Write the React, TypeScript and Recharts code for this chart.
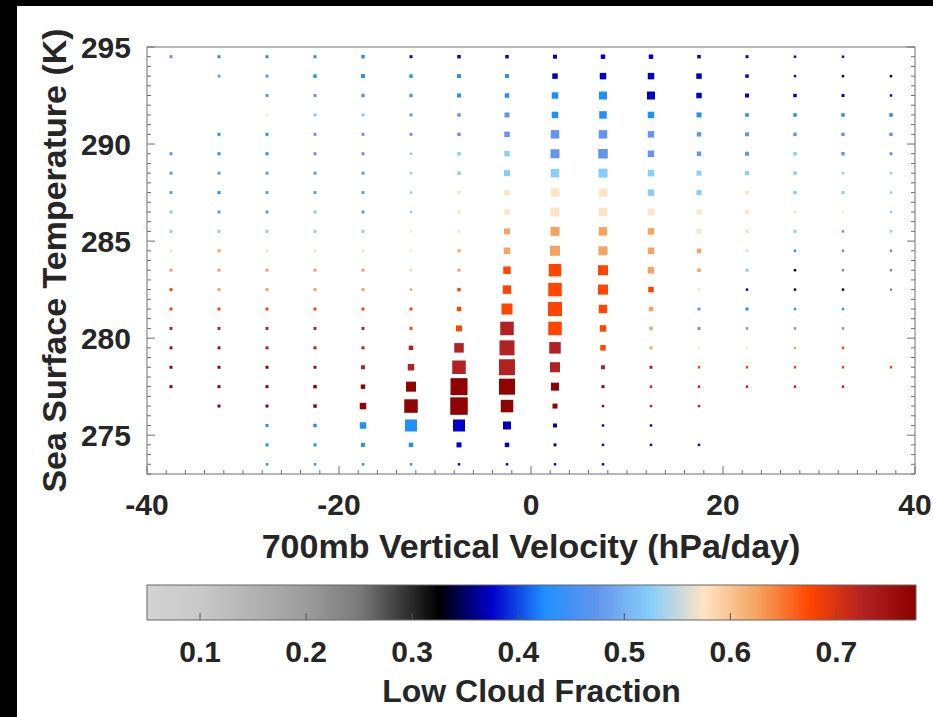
import React from 'react';
import { ScatterChart, Scatter, XAxis, YAxis, ZAxis, ComposedChart, ReferenceArea } from 'recharts';

const FONT = '"Liberation Sans", Arial, Helvetica, sans-serif';
const AXIS = '#6e6e6e';
const TEXT = '#262626';

// 700 mb vertical velocity bin centres (hPa/day)
const velocityBins = [-37.5, -32.5, -27.5, -22.5, -17.5, -12.5, -7.5, -2.5, 2.5, 7.5, 12.5, 17.5, 22.5, 27.5, 32.5, 37.5];
// SST bin centres (K), top row first
const sstBins = [294.5, 293.5, 292.5, 291.5, 290.5, 289.5, 288.5, 287.5, 286.5, 285.5, 284.5, 283.5, 282.5, 281.5, 280.5, 279.5, 278.5, 277.5, 276.5, 275.5, 274.5, 273.5];

// low cloud fraction per bin (rows follow sstBins, columns follow velocityBins)
const lowCloudFraction: (number | null)[][] = [
  [0.475, 0.425, 0.425, 0.425, 0.425, 0.375, 0.375, 0.375, 0.375, 0.375, 0.375, 0.375, 0.375, 0.375, 0.375, null],
  [null, 0.49, 0.475, 0.425, 0.425, 0.425, 0.425, 0.425, 0.375, 0.375, 0.375, 0.375, 0.375, 0.375, 0.325, 0.325],
  [null, null, 0.475, 0.475, 0.475, 0.475, 0.425, 0.425, 0.425, 0.425, 0.375, 0.375, 0.375, 0.375, 0.375, 0.375],
  [null, null, 0.575, 0.525, 0.525, 0.475, 0.475, 0.475, 0.425, 0.425, 0.425, 0.425, 0.425, 0.425, 0.425, 0.425],
  [null, 0.425, 0.425, 0.475, 0.475, 0.475, 0.475, 0.475, 0.475, 0.475, 0.475, 0.475, 0.475, 0.475, 0.475, 0.475],
  [0.475, 0.425, 0.425, 0.475, 0.475, 0.525, 0.525, 0.525, 0.475, 0.475, 0.475, 0.475, 0.475, 0.525, 0.475, 0.475],
  [0.475, 0.475, 0.475, 0.475, 0.475, 0.525, 0.525, 0.525, 0.525, 0.525, 0.525, 0.525, 0.525, 0.525, 0.525, 0.525],
  [0.475, 0.425, 0.475, 0.475, 0.475, 0.525, 0.575, 0.575, 0.575, 0.575, 0.525, 0.525, 0.575, 0.525, 0.525, 0.525],
  [0.525, 0.475, 0.475, 0.525, 0.475, 0.525, 0.575, 0.575, 0.575, 0.575, 0.575, 0.575, 0.575, 0.575, 0.575, 0.525],
  [0.525, 0.525, 0.525, 0.525, 0.525, 0.575, 0.575, 0.625, 0.625, 0.625, 0.625, 0.575, 0.575, 0.525, 0.475, 0.525],
  [0.575, 0.625, 0.575, 0.575, 0.575, 0.575, 0.625, 0.625, 0.625, 0.625, 0.625, 0.625, 0.575, 0.425, 0.22, 0.22],
  [0.625, 0.625, 0.625, 0.625, 0.625, 0.59, 0.625, 0.675, 0.675, 0.675, 0.625, 0.625, 0.525, 0.325, 0.22, 0.22],
  [0.675, 0.625, 0.625, 0.625, 0.625, 0.625, 0.675, 0.675, 0.675, 0.675, 0.675, 0.575, 0.375, 0.325, 0.325, 0.22],
  [0.675, 0.675, 0.675, 0.675, 0.675, 0.675, 0.675, 0.675, 0.675, 0.675, 0.625, 0.475, 0.425, 0.425, 0.425, null],
  [0.725, 0.725, 0.725, 0.725, 0.725, 0.675, 0.675, 0.725, 0.675, 0.675, 0.625, 0.475, 0.475, 0.475, 0.475, null],
  [0.75, 0.75, 0.725, 0.725, 0.725, 0.725, 0.725, 0.725, 0.725, 0.675, 0.625, 0.575, 0.575, 0.625, 0.675, null],
  [0.77, 0.77, 0.77, 0.75, 0.725, 0.725, 0.725, 0.725, 0.725, 0.725, 0.725, 0.675, 0.675, 0.675, 0.675, 0.675],
  [0.77, 0.77, 0.77, 0.77, 0.77, 0.77, 0.77, 0.77, 0.77, 0.77, 0.725, 0.725, 0.725, 0.725, 0.725, null],
  [null, 0.77, 0.77, 0.77, 0.77, 0.77, 0.77, 0.77, 0.77, 0.77, 0.725, 0.725, null, null, null, null],
  [null, null, 0.425, 0.425, 0.425, 0.425, 0.375, 0.375, 0.375, 0.375, 0.375, null, null, null, null, null],
  [null, null, 0.425, 0.425, 0.425, 0.425, 0.375, 0.375, 0.375, 0.375, 0.375, 0.375, null, null, null, null],
  [null, null, 0.425, 0.425, 0.425, 0.425, 0.375, 0.375, 0.375, 0.375, null, null, null, null, null, null],
];

// frequency of occurrence per bin (%), sets marker area
const frequency: (number | null)[][] = [
  [0.09, 0.09, 0.09, 0.09, 0.12, 0.09, 0.12, 0.12, 0.16, 0.2, 0.2, 0.12, 0.09, 0.06, 0.06, null],
  [null, 0.09, 0.09, 0.12, 0.16, 0.12, 0.16, 0.16, 0.3, 0.42, 0.42, 0.3, 0.12, 0.06, 0.06, 0.06],
  [null, null, 0.09, 0.09, 0.12, 0.12, 0.16, 0.2, 0.42, 0.64, 0.64, 0.3, 0.16, 0.12, 0.09, 0.06],
  [null, null, 0.06, 0.09, 0.09, 0.09, 0.12, 0.25, 0.42, 0.56, 0.42, 0.25, 0.12, 0.12, 0.12, 0.12],
  [null, 0.09, 0.09, 0.09, 0.09, 0.09, 0.12, 0.3, 0.72, 0.72, 0.42, 0.2, 0.16, 0.12, 0.12, 0.12],
  [0.09, 0.09, 0.09, 0.09, 0.09, 0.06, 0.12, 0.3, 0.81, 0.9, 0.42, 0.2, 0.16, 0.12, 0.12, 0.09],
  [0.09, 0.09, 0.09, 0.09, 0.09, 0.06, 0.12, 0.36, 0.72, 0.81, 0.42, 0.25, 0.16, 0.12, 0.06, 0.06],
  [0.09, 0.09, 0.09, 0.09, 0.09, 0.06, 0.12, 0.3, 0.72, 0.72, 0.42, 0.25, 0.16, 0.12, 0.09, 0.06],
  [0.09, 0.09, 0.09, 0.09, 0.09, 0.06, 0.12, 0.3, 0.81, 0.72, 0.42, 0.25, 0.16, 0.09, 0.06, 0.06],
  [0.09, 0.09, 0.09, 0.09, 0.09, 0.06, 0.09, 0.36, 0.81, 0.72, 0.42, 0.25, 0.16, 0.09, 0.06, 0.06],
  [0.09, 0.09, 0.09, 0.09, 0.09, 0.06, 0.09, 0.42, 1.0, 0.81, 0.42, 0.2, 0.12, 0.06, 0.06, 0.06],
  [0.09, 0.09, 0.09, 0.09, 0.09, 0.06, 0.09, 0.56, 1.56, 1.0, 0.42, 0.12, 0.09, 0.06, 0.06, 0.06],
  [0.09, 0.09, 0.09, 0.09, 0.09, 0.06, 0.12, 0.72, 1.82, 1.0, 0.3, 0.09, 0.06, 0.06, 0.06, 0.06],
  [0.09, 0.09, 0.09, 0.09, 0.09, 0.09, 0.2, 1.21, 1.96, 0.72, 0.2, 0.09, 0.09, 0.06, 0.06, null],
  [0.09, 0.09, 0.09, 0.09, 0.09, 0.09, 0.36, 1.82, 1.82, 0.42, 0.12, 0.09, 0.06, 0.06, 0.06, null],
  [0.09, 0.09, 0.09, 0.09, 0.09, 0.2, 0.9, 2.25, 1.32, 0.3, 0.09, 0.06, 0.06, 0.06, 0.06, null],
  [0.09, 0.09, 0.09, 0.09, 0.16, 0.42, 1.82, 2.56, 1.0, 0.16, 0.09, 0.06, 0.06, 0.06, 0.06, 0.06],
  [0.09, 0.09, 0.09, 0.12, 0.2, 1.0, 2.89, 2.56, 0.64, 0.09, 0.06, 0.06, 0.06, 0.06, 0.06, null],
  [null, 0.09, 0.09, 0.12, 0.42, 1.82, 3.06, 1.56, 0.25, 0.06, 0.06, 0.06, null, null, null, null],
  [null, null, 0.09, 0.12, 0.42, 1.44, 1.44, 0.64, 0.16, 0.06, 0.06, null, null, null, null, null],
  [null, null, 0.09, 0.09, 0.16, 0.2, 0.25, 0.2, 0.09, 0.06, 0.06, 0.06, null, null, null, null],
  [null, null, 0.06, 0.06, 0.06, 0.06, 0.06, 0.06, 0.06, 0.06, null, null, null, null, null, null],
];

const xDomain = [-40, 40];
const yDomain = [273, 295];
const xMajorTicks = [-40, -20, 0, 20, 40];
const xAllTicks = Array.from({ length: 41 }, (_, i) => -40 + 2 * i);
const yMajorTicks = [275, 280, 285, 290, 295];
const yAllTicks = Array.from({ length: 45 }, (_, i) => 273 + 0.5 * i);

// colour bar
const cbarDomain = [0.05, 0.775];
const cbarTicks = [0.1, 0.2, 0.3, 0.4, 0.5, 0.6, 0.7];
const cmapPositions = [0.05, 0.1, 0.2, 0.25, 0.28, 0.325, 0.375, 0.425, 0.475, 0.525, 0.575, 0.625, 0.675, 0.725, 0.775];
const cmapColors = ['#d3d3d3', '#c9c9c9', '#9c9c9c', '#7a7a7a', '#4a4a4a', '#000000', '#0000cd', '#1e90ff', '#6495ed', '#87cefa', '#ffe4c4', '#f4a460', '#ff4500', '#b22222', '#8b0000'];

function hexToRgb(h: string) {
  const n = parseInt(h.slice(1), 16);
  return [(n >> 16) & 255, (n >> 8) & 255, n & 255];
}

function lcfColor(v: number) {
  if (v <= cmapPositions[0]) return cmapColors[0];
  for (let i = 1; i < cmapPositions.length; i++) {
    if (v <= cmapPositions[i]) {
      const t = (v - cmapPositions[i - 1]) / (cmapPositions[i] - cmapPositions[i - 1]);
      const a = hexToRgb(cmapColors[i - 1]);
      const b = hexToRgb(cmapColors[i]);
      const c = a.map((av, k) => Math.round(av + (b[k] - av) * t));
      return `rgb(${c[0]},${c[1]},${c[2]})`;
    }
  }
  return cmapColors[cmapColors.length - 1];
}

const points: { x: number; y: number; lcf: number; f: number }[] = [];
sstBins.forEach((sst, r) => {
  velocityBins.forEach((w, c) => {
    const l = lowCloudFraction[r][c];
    const f = frequency[r][c];
    if (l != null && f != null) points.push({ x: w, y: sst, lcf: l, f });
  });
});

const renderSquare = (props: any) => {
  const { cx, cy, payload } = props;
  let area = props.size;
  if (typeof area !== 'number' || isNaN(area)) {
    const w = props.width || 0;
    area = Math.PI * (w / 2) * (w / 2);
  }
  const s = Math.sqrt(Math.max(area, 0));
  return <rect x={cx - s / 2} y={cy - s / 2} width={s} height={s} fill={lcfColor(payload.lcf)} />;
};

const BottomTick = (props: any) => {
  const { x, y, payload } = props;
  const major = xMajorTicks.includes(payload.value);
  return (
    <g>
      <line x1={x} x2={x} y1={y} y2={y - (major ? 8 : 4)} stroke={AXIS} strokeWidth={1} />
      {major && (
        <text x={x} y={y + 41} textAnchor="middle" fontFamily={FONT} fontWeight="bold" fontSize={30} fill={TEXT}>
          {payload.value}
        </text>
      )}
    </g>
  );
};

const TopTick = (props: any) => {
  const { x, y, payload } = props;
  const major = xMajorTicks.includes(payload.value);
  return <line x1={x} x2={x} y1={y} y2={y + (major ? 8 : 4)} stroke={AXIS} strokeWidth={1} />;
};

const LeftTick = (props: any) => {
  const { x, y, payload } = props;
  const major = yMajorTicks.includes(payload.value);
  return (
    <g>
      <line x1={x} x2={x + (major ? 8 : 4)} y1={y} y2={y} stroke={AXIS} strokeWidth={1} />
      {major && (
        <text x={x - 16} y={y + 10.5} textAnchor="end" fontFamily={FONT} fontWeight="bold" fontSize={30} fill={TEXT}>
          {payload.value}
        </text>
      )}
    </g>
  );
};

const RightTick = (props: any) => {
  const { x, y, payload } = props;
  const major = yMajorTicks.includes(payload.value);
  return <line x1={x} x2={x - (major ? 8 : 4)} y1={y} y2={y} stroke={AXIS} strokeWidth={1} />;
};

const CbarTick = (props: any) => {
  const { x, y, payload } = props;
  return (
    <g>
      <line x1={x} x2={x} y1={y} y2={y - 7} stroke="#555" strokeWidth={1} />
      <text x={x} y={y + 42} textAnchor="middle" fontFamily={FONT} fontWeight="bold" fontSize={30} fill={TEXT}>
        {Number(payload.value).toFixed(1)}
      </text>
    </g>
  );
};

const xLabel = (p: any) => {
  const vb = p && p.viewBox && p.viewBox.width ? p.viewBox : { x: 147, y: 474, width: 768, height: 1 };
  return (
    <text x={vb.x + vb.width / 2} y={474 + 84} textAnchor="middle" fontFamily={FONT} fontWeight="bold" fontSize={34} fill={TEXT}>
      700mb Vertical Velocity (hPa/day)
    </text>
  );
};

const yLabel = (p: any) => {
  const vb = p && p.viewBox && p.viewBox.height ? p.viewBox : { x: 146, y: 47, width: 1, height: 427 };
  const cx = 66;
  const cy = vb.y + vb.height / 2;
  return (
    <text x={cx} y={cy} transform={`rotate(-90 ${cx} ${cy})`} textAnchor="middle" fontFamily={FONT} fontWeight="bold" fontSize={34} fill={TEXT}>
      Sea Surface Temperature (K)
    </text>
  );
};

const cbarLabel = (p: any) => {
  const vb = p && p.viewBox && p.viewBox.width ? p.viewBox : { x: 147, y: 60, width: 768, height: 1 };
  return (
    <text x={vb.x + vb.width / 2} y={60 + 82} textAnchor="middle" fontFamily={FONT} fontWeight="bold" fontSize={32} fill={TEXT}>
      Low Cloud Fraction
    </text>
  );
};

const cbarData = cbarTicks.map((v) => ({ v }));

export default function App() {
  return (
    <div style={{ position: 'absolute', left: 0, top: 0, width: 933, height: 717, background: '#000', overflow: 'hidden' }}>
      <div style={{ position: 'absolute', left: 17, top: 6, width: 916, height: 711, background: '#fff' }} />
      <div style={{ position: 'absolute', left: 0, top: 0 }}>
        <ScatterChart width={933} height={600} margin={{ top: 46, right: 17, bottom: 125, left: 146 }}>
          <XAxis
            type="number"
            dataKey="x"
            domain={xDomain}
            ticks={xAllTicks}
            interval={0}
            height={1}
            tickSize={0}
            tickMargin={0}
            tickLine={false}
            axisLine={{ stroke: AXIS, strokeWidth: 1 }}
            tick={BottomTick}
            allowDataOverflow
            label={xLabel}
          />
          <XAxis
            xAxisId="top"
            orientation="top"
            type="number"
            domain={xDomain}
            ticks={xAllTicks}
            interval={0}
            height={1}
            tickSize={0}
            tickMargin={0}
            tickLine={false}
            axisLine={{ stroke: AXIS, strokeWidth: 1 }}
            tick={TopTick}
            allowDataOverflow
          />
          <YAxis
            type="number"
            dataKey="y"
            domain={yDomain}
            ticks={yAllTicks}
            interval={0}
            width={1}
            tickSize={0}
            tickMargin={0}
            tickLine={false}
            axisLine={{ stroke: AXIS, strokeWidth: 1 }}
            tick={LeftTick}
            allowDataOverflow
            label={yLabel}
          />
          <YAxis
            yAxisId="right"
            orientation="right"
            type="number"
            domain={yDomain}
            ticks={yAllTicks}
            interval={0}
            width={1}
            tickSize={0}
            tickMargin={0}
            tickLine={false}
            axisLine={{ stroke: AXIS, strokeWidth: 1 }}
            tick={RightTick}
            allowDataOverflow
          />
          <ZAxis type="number" dataKey="f" domain={[0, 3.1]} range={[0, 310]} />
          <Scatter data={points} shape={renderSquare} isAnimationActive={false} />
        </ScatterChart>
      </div>
      <div style={{ position: 'absolute', left: 0, top: 560 }}>
        <ComposedChart width={933} height={157} data={cbarData} margin={{ top: 25, right: 17, bottom: 96, left: 147 }}>
          <defs>
            <linearGradient id="lcfGradient" x1="0" y1="0" x2="1" y2="0">
              {cmapPositions.map((p, i) => (
                <stop key={i} offset={`${((p - cbarDomain[0]) / (cbarDomain[1] - cbarDomain[0])) * 100}%`} stopColor={cmapColors[i]} />
              ))}
            </linearGradient>
          </defs>
          <XAxis
            type="number"
            dataKey="v"
            domain={cbarDomain}
            ticks={cbarTicks}
            interval={0}
            height={1}
            tickSize={0}
            tickMargin={0}
            tickLine={false}
            axisLine={false}
            tick={CbarTick}
            allowDataOverflow
            label={cbarLabel}
          />
          <YAxis type="number" domain={[0, 1]} hide width={0} allowDataOverflow />
          <ReferenceArea x1={cbarDomain[0]} x2={cbarDomain[1]} y1={0} y2={1} fill="url(#lcfGradient)" fillOpacity={1} stroke="#666" strokeWidth={1} />
        </ComposedChart>
      </div>
    </div>
  );
}
